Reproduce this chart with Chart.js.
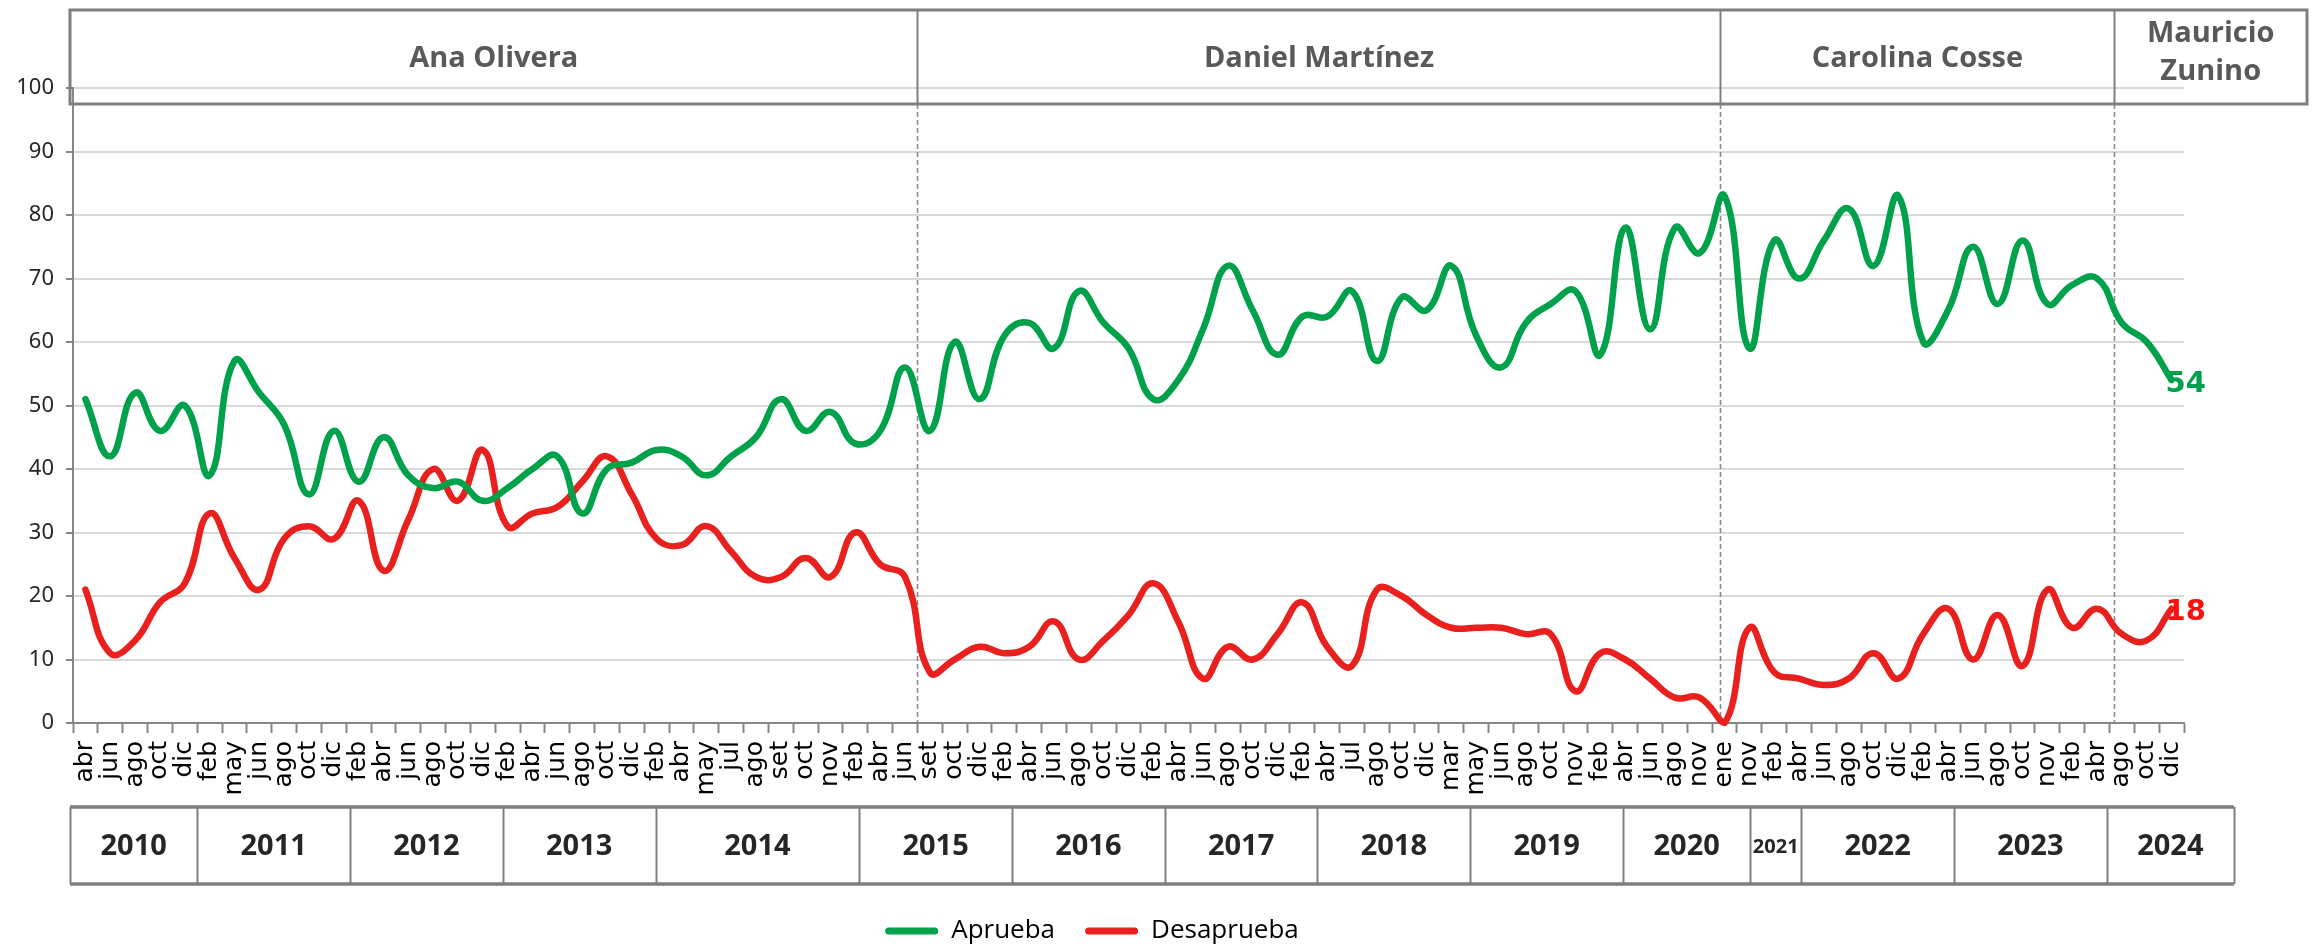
<!DOCTYPE html>
<html><head><meta charset="utf-8">
<script src="https://cdn.jsdelivr.net/npm/chart.js@4.4.1/dist/chart.umd.min.js"></script>
<style>html,body{margin:0;padding:0;background:#fff}</style>
</head><body>
<canvas id="c" width="2318" height="946"></canvas>
<script>
// ---------------- DATA ----------------
const monthLabels = [
  'abr','jun','ago','oct','dic',
  'feb','may','jun','ago','oct','dic',
  'feb','abr','jun','ago','oct','dic',
  'feb','abr','jun','ago','oct','dic',
  'feb','abr','may','jul','ago','set','oct','nov',
  'feb','abr','jun','set','oct','dic',
  'feb','abr','jun','ago','oct','dic',
  'feb','abr','jun','ago','oct','dic',
  'feb','abr','jul','ago','oct','dic',
  'mar','may','jun','ago','oct','nov',
  'feb','abr','jun','ago','nov',
  'ene','nov',
  'feb','abr','jun','ago','oct','dic',
  'feb','abr','jun','ago','oct','nov',
  'feb','abr','ago','oct','dic'
];
const aprueba = [
  51,42,52,46,50,
  39,57,52,47,36,46,
  38,45,39,37,38,35,
  37,40,42,33,40,41,
  43,42,39,42,45,51,46,49,
  44,46,56,46,60,51,
  61,63,59,68,63,59,
  51,54,62,72,65,58,
  64,64,68,57,67,65,
  72,61,56,63,66,68,
  58,78,62,78,74,
  83,59,
  76,70,76,81,72,83,
  60,65,75,66,76,66,
  69,70,63,60,54
];
const desaprueba = [
  21,11,13,19,22,
  33,26,21,29,31,29,
  35,24,32,40,35,43,
  31,33,34,38,42,36,
  29,28,31,27,23,23,26,23,
  30,25,23,8,10,12,
  11,12,16,10,13,17,
  22,16,7,12,10,14,
  19,12,9,21,20,17,
  15,15,15,14,14,5,
  11,10,7,4,4,
  0,15,
  8,7,6,7,11,7,
  14,18,10,17,9,21,
  15,18,14,13,18
];
const yearLabels = ['2010','2011','2012','2013','2014','2015','2016','2017','2018','2019','2020','2021','2022','2023','2024'];
const yearMonthCounts = [5,6,6,6,8,6,6,6,6,6,5,2,6,6,5];
const presidents = ['Ana Olivera','Daniel Martínez','Carolina Cosse','Mauricio Zunino'];
const presidentBreaks = [33.5, 65.8, 81.7]; // category index where each new term begins
const seriesNames = ['Aprueba','Desaprueba'];

// ---------------- STYLE ----------------
const GREEN = '#00A14B', RED = '#E8211F', RED_LABEL = '#FF1010';
const AXIS = '#868686', GRID = '#d9d9d9', BOX = '#7f7f7f';
const HEADER_TOP = 10, HEADER_BOTTOM = 104;
const TABLE_TOP = 807, TABLE_BOTTOM = 884;
const PLOT_BOTTOM = 723;
const PAD_BOTTOM = -8;

const deco = {
  id: 'deco',
  beforeDatasetsDraw(chart) {
    const {ctx, chartArea: a, scales: {x}} = chart;
    ctx.save();
    ctx.strokeStyle = '#8a8a8a'; ctx.lineWidth = 1.6; ctx.setLineDash([5, 3]);
    presidentBreaks.forEach(v => {
      const px = Math.round(x.getPixelForValue(v)) + 0.5;
      ctx.beginPath(); ctx.moveTo(px, HEADER_BOTTOM); ctx.lineTo(px, a.bottom); ctx.stroke();
    });
    ctx.restore();
  },
  afterDatasetsDraw(chart) {
    const {ctx} = chart;
    ctx.save();
    ctx.font = 'bold 29px "DejaVu Sans"';
    ctx.textAlign = 'left'; ctx.textBaseline = 'middle';
    chart.data.datasets.forEach((ds, i) => {
      const meta = chart.getDatasetMeta(i);
      const p = meta.data[meta.data.length - 1];
      ctx.fillStyle = i === 0 ? GREEN : RED_LABEL;
      ctx.fillText(String(ds.data[ds.data.length - 1]), p.x - 6, p.y + 4);
    });
    ctx.restore();
  },
  afterDraw(chart) {
    const {ctx, chartArea: a, scales: {x}} = chart;
    ctx.save();
    // ---- header (presidents) ----
    const hl = a.left - 3, hr = chart.width - 11;
    const edges = [hl, ...presidentBreaks.map(v => Math.round(x.getPixelForValue(v)) + 0.5), hr];
    ctx.strokeStyle = BOX; ctx.lineWidth = 3;
    ctx.strokeRect(hl, HEADER_TOP, hr - hl, HEADER_BOTTOM - HEADER_TOP);
    ctx.lineWidth = 2;
    for (let i = 1; i < edges.length - 1; i++) {
      ctx.beginPath(); ctx.moveTo(edges[i], HEADER_TOP); ctx.lineTo(edges[i], HEADER_BOTTOM); ctx.stroke();
    }
    ctx.fillStyle = '#595959';
    ctx.font = 'bold 29px "Open Sans"';
    ctx.textAlign = 'center'; ctx.textBaseline = 'middle';
    presidents.forEach((name, i) => {
      const cx = (edges[i] + edges[i + 1]) / 2;
      const w = edges[i + 1] - edges[i];
      if (ctx.measureText(name).width > w - 12) {
        const parts = name.split(' ');
        ctx.fillText(parts[0], cx, 34);
        ctx.fillText(parts.slice(1).join(' '), cx, 72);
      } else {
        ctx.fillText(name, cx, 59);
      }
    });
    // ---- year table ----
    const tl = a.left - 3, tr = a.right + 50;
    const frac = v => (x.getPixelForValue(v) - a.left) / a.width;
    const yEdges = [tl];
    let acc = 0;
    yearMonthCounts.forEach(c => { acc += c; yEdges.push(tl + frac(acc - 0.5) * (tr - tl)); });
    ctx.strokeStyle = BOX; ctx.lineWidth = 2;
    for (let i = 0; i < yEdges.length; i++) {
      const px = Math.round(yEdges[i]) + 0.5;
      ctx.beginPath(); ctx.moveTo(px, TABLE_TOP); ctx.lineTo(px, TABLE_BOTTOM); ctx.stroke();
    }
    ctx.lineWidth = 3.5;
    ctx.beginPath(); ctx.moveTo(tl, TABLE_TOP); ctx.lineTo(tr, TABLE_TOP); ctx.stroke();
    ctx.beginPath(); ctx.moveTo(tl, TABLE_BOTTOM); ctx.lineTo(tr, TABLE_BOTTOM); ctx.stroke();
    ctx.fillStyle = '#262626';
    yearLabels.forEach((yl, i) => {
      const cx = (yEdges[i] + yEdges[i + 1]) / 2;
      const small = yearMonthCounts[i] < 3;
      ctx.font = small ? 'bold 20px "Open Sans"' : 'bold 29px "Open Sans"';
      ctx.fillText(yl, cx, 847);
    });
    ctx.restore();
  }
};

new Chart(document.getElementById('c'), {
  type: 'line',
  data: {
    labels: monthLabels,
    datasets: [
      {label: seriesNames[0], data: aprueba, borderColor: GREEN, backgroundColor: GREEN},
      {label: seriesNames[1], data: desaprueba, borderColor: RED, backgroundColor: RED}
    ]
  },
  options: {
    responsive: false, animation: false, devicePixelRatio: 1,
    layout: {padding: {top: 88, right: 134, left: 0, bottom: PAD_BOTTOM}},
    elements: {
      line: {tension: 0.45, borderWidth: 6.5, borderCapStyle: 'round', borderJoinStyle: 'round'},
      point: {radius: 0, hoverRadius: 0}
    },
    datasets: {line: {clip: 10}},
    plugins: {
      tooltip: {enabled: false},
      legend: {
        position: 'bottom',
        labels: {
          font: {family: 'Open Sans', size: 26}, color: '#000',
          boxWidth: 53, boxHeight: 7, padding: 30,
          useBorderRadius: true, borderRadius: 3.5,
          generateLabels: (chart) => Chart.defaults.plugins.legend.labels.generateLabels(chart)
            .map(l => Object.assign(l, {lineWidth: 0}))
        }
      }
    },
    scales: {
      x: {
        offset: true,
        grid: {display: true, drawOnChartArea: false, offset: true, tickLength: 10, tickColor: AXIS, tickWidth: 2},
        border: {color: AXIS, width: 2},
        ticks: {autoSkip: false, maxRotation: 90, minRotation: 90, padding: 8,
          font: {family: 'DejaVu Sans', size: 25}, color: '#000'},
        afterFit(scale) {
          const lh = scale.chart.legend ? scale.chart.legend.height : 66;
          scale.height = 946 - PAD_BOTTOM - PLOT_BOTTOM - lh;
        }
      },
      y: {
        min: 0, max: 100,
        ticks: {stepSize: 10, padding: 12, font: {family: 'Noto Sans', size: 22}, color: '#262626'},
        grid: {color: GRID, lineWidth: 2, tickLength: 7, tickColor: AXIS, tickWidth: 2},
        border: {color: AXIS, width: 2},
        afterFit(scale) { scale.width = 73; }
      }
    }
  },
  plugins: [deco]
});
</script>
</body></html>
